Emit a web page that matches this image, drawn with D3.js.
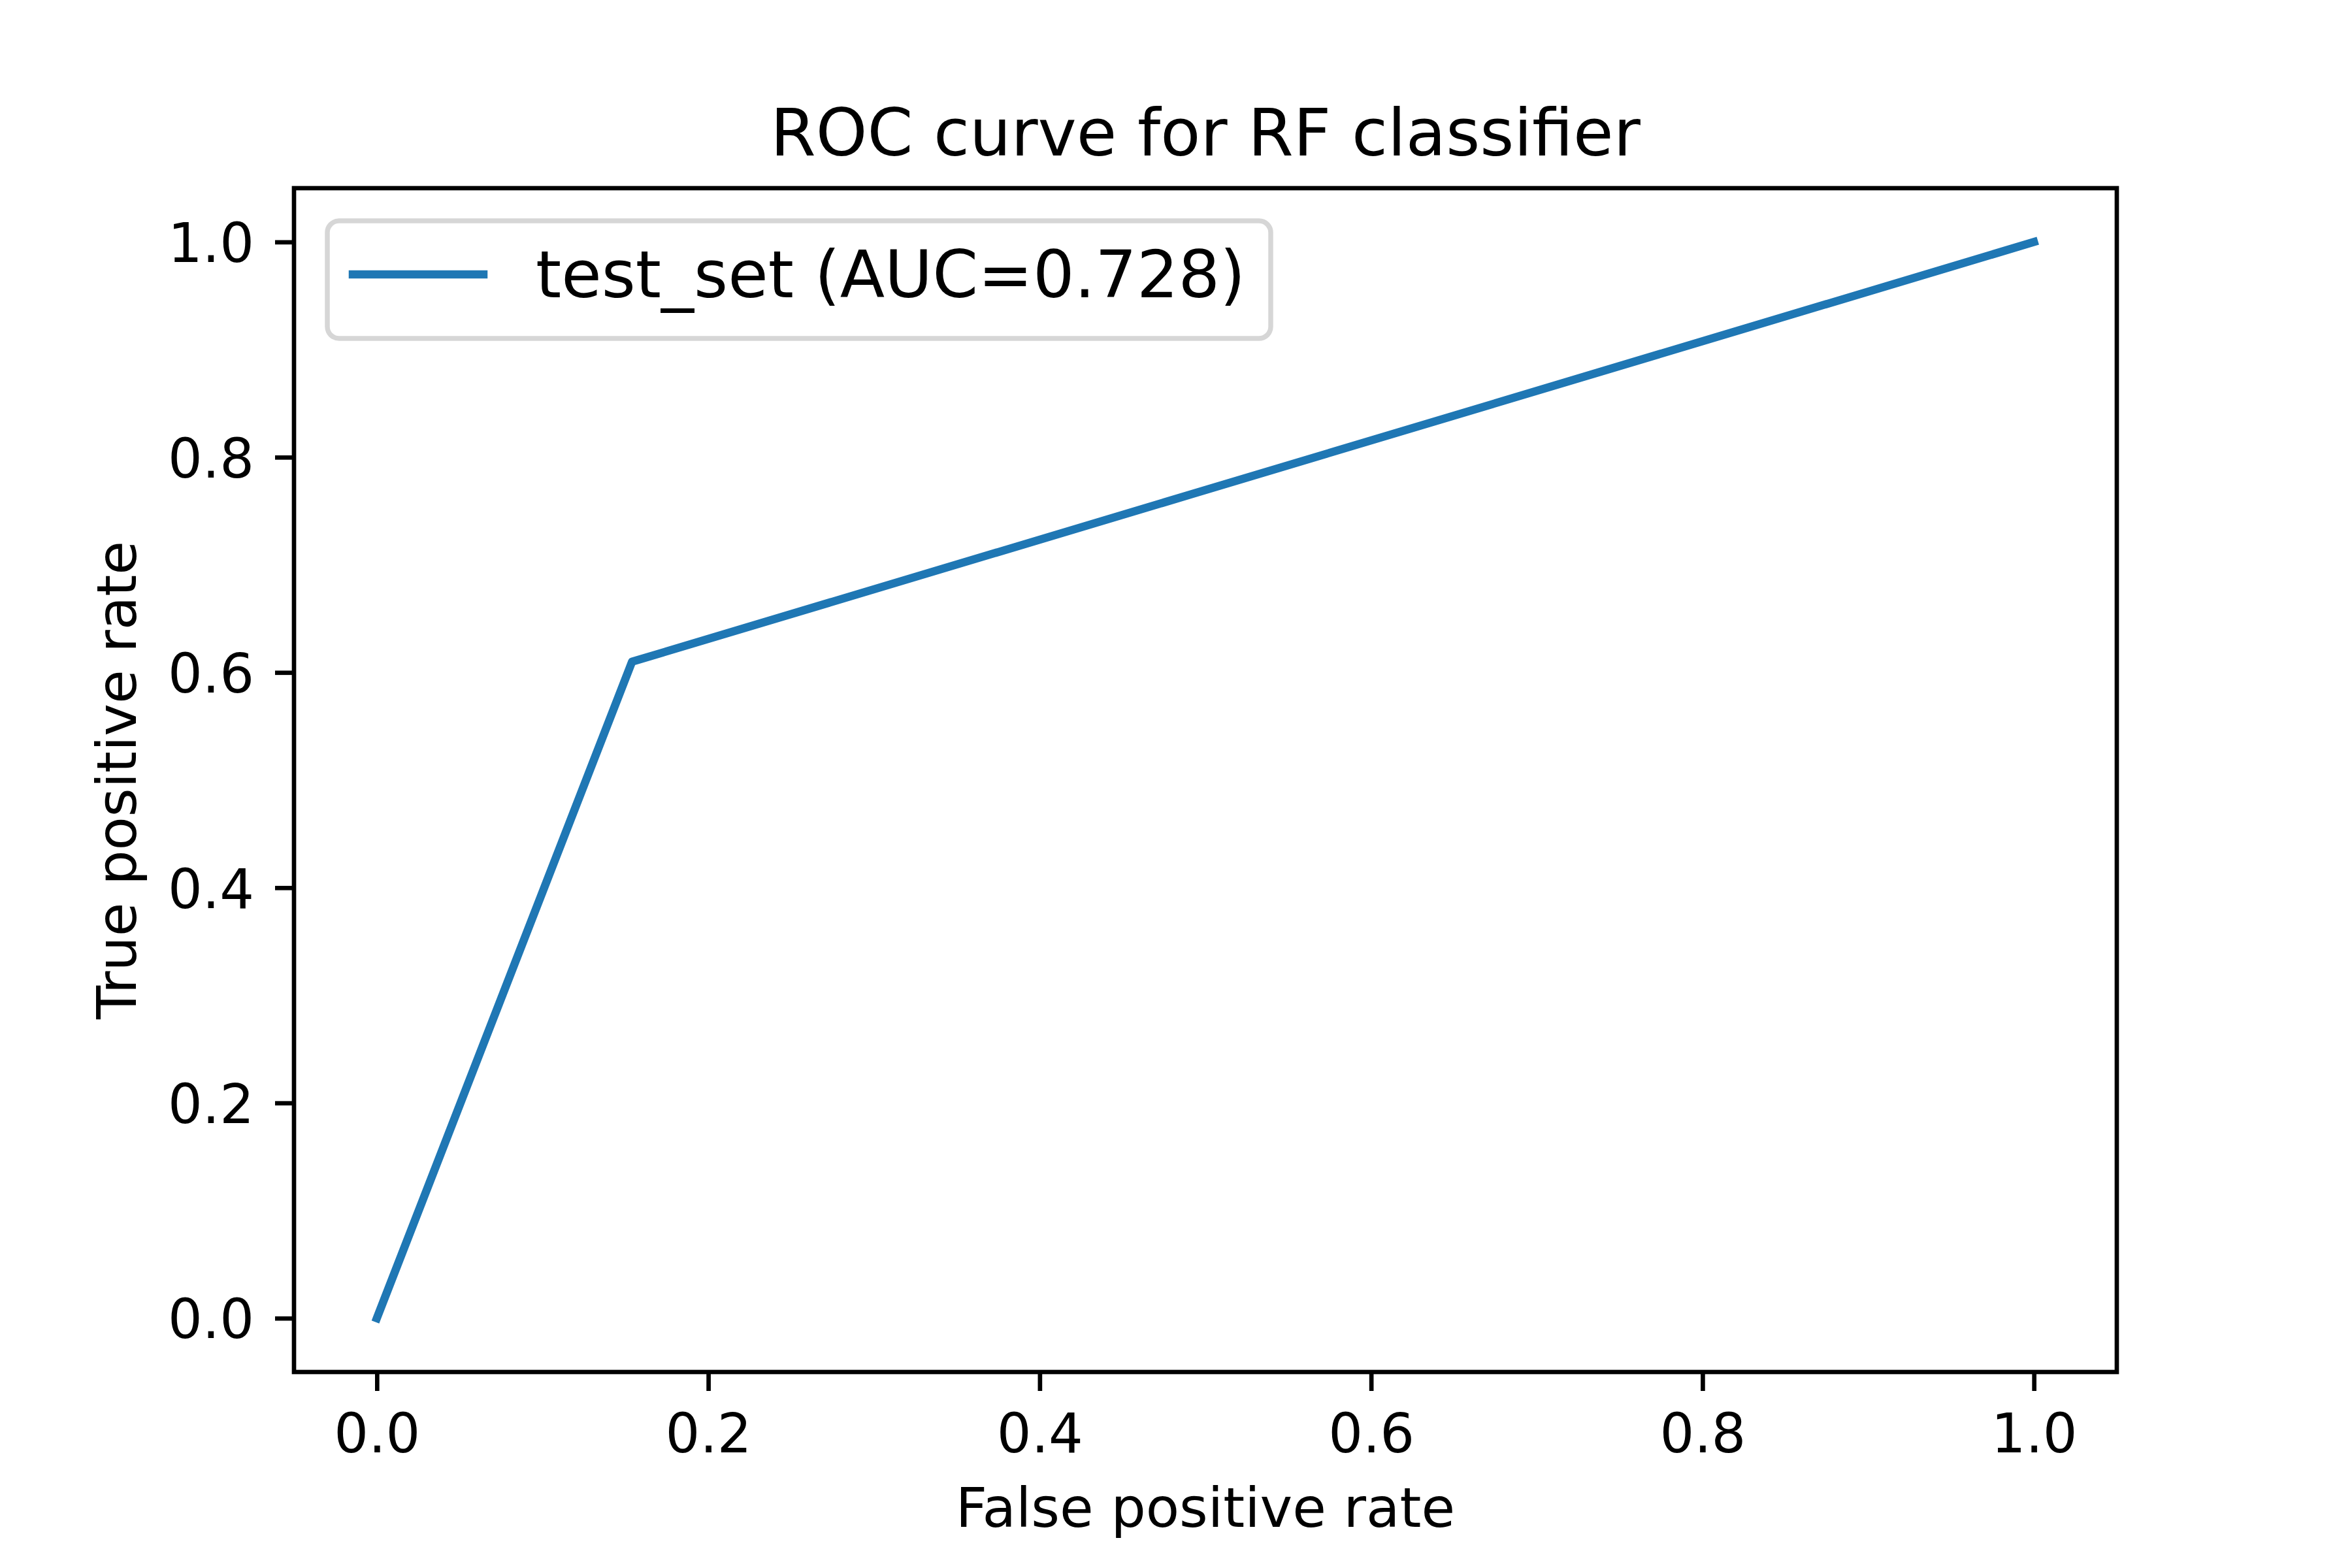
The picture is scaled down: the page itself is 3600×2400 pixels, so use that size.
<!DOCTYPE html>
<html>
<head>
<meta charset="utf-8">
<script src="https://cdn.jsdelivr.net/npm/d3@7"></script>
<style>
  html, body { margin: 0; padding: 0; background: #ffffff; }
  svg { display: block; }
  text { font-family: "DejaVu Sans", sans-serif; fill: #000000; }
</style>
</head>
<body>
<script>
// ---- data ----
const fpr = [0, 0.154, 1];
const tpr = [0, 0.61, 1];
const seriesLabel = "test_set (AUC=0.728)";
const xTickValues = [0, 0.2, 0.4, 0.6, 0.8, 1.0];
const yTickValues = [0, 0.2, 0.4, 0.6, 0.8, 1.0];
const titleText = "ROC curve for RF classifier";
const xLabelText = "False positive rate";
const yLabelText = "True positive rate";

// ---- layout ----
const W = 3600, H = 2400;
const L = 450, R = 3240, T = 288, B = 2100;
const spineW = 6.67, tickLen = 29;
const tickFont = 83, labelFont = 84, titleFont = 100, legendFont = 100;
const lineColor = "#1f77b4";

const svg = d3.select("body").append("svg")
  .attr("width", W).attr("height", H)
  .attr("viewBox", `0 0 ${W} ${H}`);

svg.append("rect").attr("width", W).attr("height", H).attr("fill", "#ffffff");

const x = d3.scaleLinear().domain([-0.05, 1.05]).range([L, R]);
const y = d3.scaleLinear().domain([-0.05, 1.05]).range([B, T]);

// ---- line ----
const pts = fpr.map((v, i) => [v, tpr[i]]);
const line = d3.line().x(d => x(d[0])).y(d => y(d[1]));
svg.append("path")
  .datum(pts)
  .attr("d", line)
  .attr("fill", "none")
  .attr("stroke", lineColor)
  .attr("stroke-width", 12.5)
  .attr("stroke-linejoin", "round")
  .attr("stroke-linecap", "square");

// ---- frame ----
svg.append("rect")
  .attr("x", L).attr("y", T)
  .attr("width", R - L).attr("height", B - T)
  .attr("fill", "none")
  .attr("stroke", "#000000")
  .attr("stroke-width", spineW);

const fmt = d3.format(".1f");

// ---- x axis ----
const gx = svg.append("g")
  .attr("transform", `translate(0,${B})`)
  .call(d3.axisBottom(x).tickValues(xTickValues).tickFormat(fmt)
    .tickSize(tickLen).tickSizeOuter(0));
gx.select(".domain").remove();
gx.selectAll(".tick line").attr("stroke", "#000").attr("stroke-width", spineW);
gx.selectAll(".tick text")
  .attr("y", 123).attr("dy", null)
  .attr("font-size", tickFont)
  .attr("font-family", "DejaVu Sans")
  .attr("fill", "#000");

// ---- y axis ----
const gy = svg.append("g")
  .attr("transform", `translate(${L},0)`)
  .call(d3.axisLeft(y).tickValues(yTickValues).tickFormat(fmt)
    .tickSize(tickLen).tickSizeOuter(0));
gy.select(".domain").remove();
gy.selectAll(".tick line").attr("stroke", "#000").attr("stroke-width", spineW);
gy.selectAll(".tick text")
  .attr("x", 389 - L).attr("dy", "0.365em")
  .attr("font-size", tickFont)
  .attr("font-family", "DejaVu Sans")
  .attr("fill", "#000");

// ---- title & labels ----
svg.append("text")
  .attr("x", (L + R) / 2).attr("y", 238)
  .attr("text-anchor", "middle")
  .attr("font-size", titleFont)
  .text(titleText);

svg.append("text")
  .attr("x", (L + R) / 2).attr("y", 2337)
  .attr("text-anchor", "middle")
  .attr("font-size", labelFont)
  .text(xLabelText);

svg.append("text")
  .attr("transform", `translate(208,${(T + B) / 2}) rotate(-90)`)
  .attr("text-anchor", "middle")
  .attr("font-size", labelFont)
  .text(yLabelText);

// ---- legend ----
const lg = svg.append("g");
lg.append("rect")
  .attr("x", 501).attr("y", 338)
  .attr("width", 1444).attr("height", 180)
  .attr("rx", 18).attr("ry", 18)
  .attr("fill", "#ffffff")
  .attr("fill-opacity", 0.8)
  .attr("stroke", "#d6d6d6")
  .attr("stroke-width", 7.5);
lg.append("line")
  .attr("x1", 540).attr("x2", 740)
  .attr("y1", 420).attr("y2", 420)
  .attr("stroke", lineColor)
  .attr("stroke-width", 12.5)
  .attr("stroke-linecap", "square");
lg.append("text")
  .attr("x", 820).attr("y", 455)
  .attr("font-size", legendFont)
  .text(seriesLabel);
</script>
</body>
</html>
